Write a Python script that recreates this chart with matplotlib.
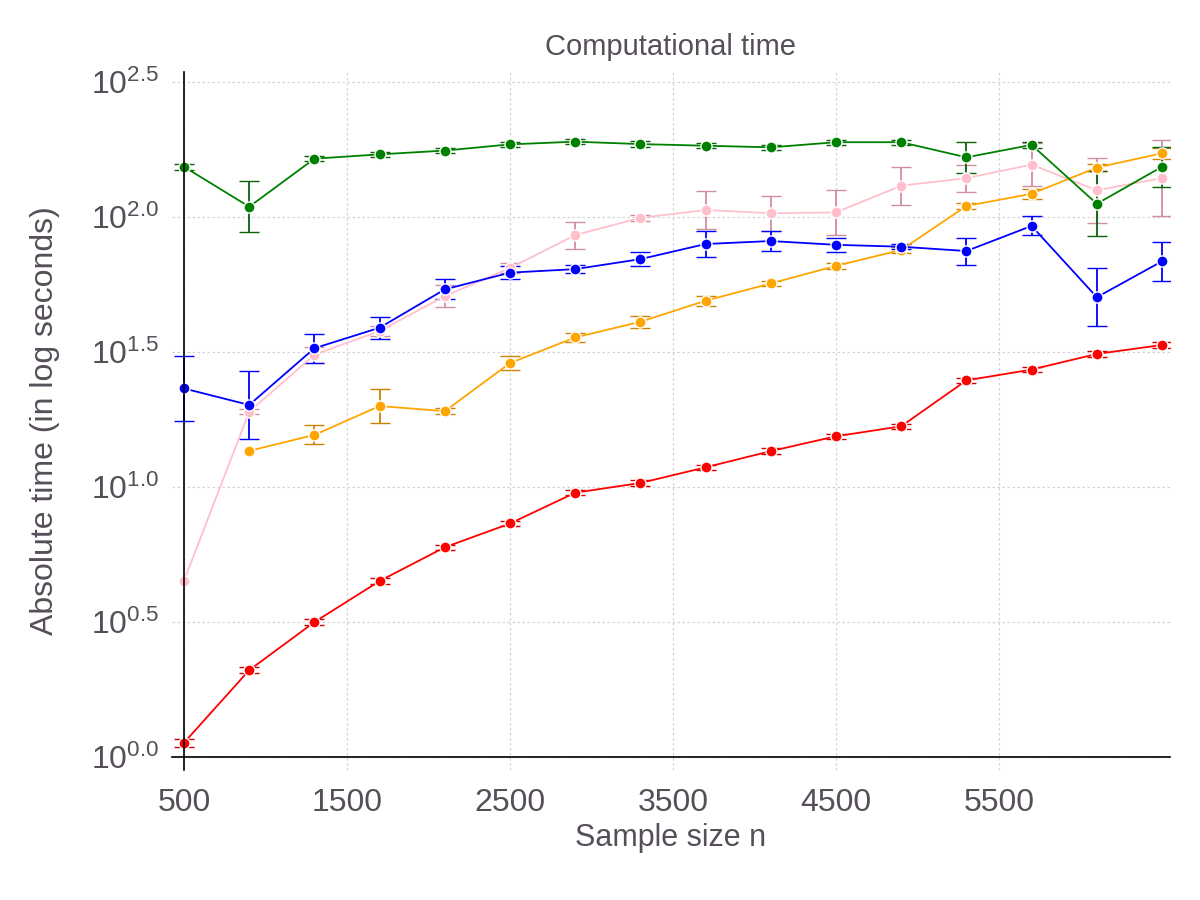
import numpy as np
import matplotlib
matplotlib.use("Agg")
import matplotlib.pyplot as plt

# sample sizes
n = [500, 900, 1300, 1700, 2100, 2500, 2900, 3300, 3700, 4100, 4500, 4900, 5300, 5700, 6100, 6500]

# log10 of mean time in seconds, and half-width of error bars (log10 units)
pink_mean = [0.653, 1.279, 1.490, 1.578, 1.707, 1.811, 1.933, 1.997, 2.026, 2.014, 2.017, 2.116, 2.144, 2.194, 2.099, 2.144]
pink_err = [np.nan, 0.01, 0.03, 0.02, 0.04, 0.02, 0.05, 0.012, 0.07, 0.065, 0.083, 0.07, 0.05, 0.08, 0.12, 0.14]

orange_mean = [np.nan, 1.134, 1.193, 1.300, 1.281, 1.459, 1.554, 1.612, 1.690, 1.754, 1.819, 1.878, 2.041, 2.086, 2.183, 2.236]
orange_err = [np.nan, np.nan, 0.035, 0.062, 0.012, 0.027, 0.018, 0.022, 0.018, 0.01, 0.01, 0.01, 0.01, 0.018, 0.012, 0.02]

blue_mean = [1.365, 1.304, 1.514, 1.590, 1.732, 1.794, 1.807, 1.844, 1.900, 1.911, 1.897, 1.890, 1.874, 1.967, 1.703, 1.836]
blue_err = [0.12, 0.125, 0.053, 0.04, 0.037, 0.025, 0.015, 0.025, 0.047, 0.036, 0.027, 0.01, 0.05, 0.035, 0.108, 0.073]

green_mean = [2.186, 2.038, 2.216, 2.232, 2.246, 2.269, 2.279, 2.270, 2.264, 2.258, 2.277, 2.277, 2.221, 2.267, 2.049, 2.186]
green_err = [0.012, 0.095, 0.01, 0.01, 0.01, 0.01, 0.01, 0.01, 0.01, 0.01, 0.01, 0.01, 0.058, 0.012, 0.12, 0.075]

red_mean = [0.053, 0.322, 0.500, 0.652, 0.777, 0.865, 0.979, 1.015, 1.073, 1.133, 1.188, 1.225, 1.395, 1.435, 1.493, 1.526]
red_err = [0.015, 0.012, 0.01, 0.01, 0.01, 0.01, 0.01, 0.01, 0.01, 0.01, 0.01, 0.01, 0.01, 0.01, 0.01, 0.01]

x_ticks = [500, 1500, 2500, 3500, 4500, 5500]
y_ticks = [0.0, 0.5, 1.0, 1.5, 2.0, 2.5]

text_color = "#564e58"
plt.rcParams["font.family"] = ["Liberation Sans", "DejaVu Sans"]
plt.rcParams["mathtext.fontset"] = "custom"
plt.rcParams["mathtext.rm"] = "Liberation Sans"
plt.rcParams["mathtext.default"] = "regular"

fig = plt.figure(figsize=(12, 9), dpi=100)
ax = fig.add_axes([0.1433, 0.1444, 0.8317, 0.7756])

series = [
    (pink_mean, pink_err, "pink", "#cf8f9c"),
    (orange_mean, orange_err, "orange", "#cc8400"),
    (blue_mean, blue_err, "blue", "blue"),
    (green_mean, green_err, "green", "#0b620b"),
    (red_mean, red_err, "red", "#d40000"),
]

for mean, err, col, ecol in series:
    ax.errorbar(n, mean, yerr=err, color=col, ecolor=ecol, lw=1.3, elinewidth=1.3,
                capsize=7, capthick=1.3, marker="o", markersize=8,
                markeredgecolor="white", markeredgewidth=1.0)

ax.set_xlim(426, 6549)
ax.set_ylim(-0.048, 2.537)
ax.spines["left"].set_position(("data", 500))
ax.spines["bottom"].set_position(("data", 0))
ax.spines["right"].set_visible(False)
ax.spines["top"].set_visible(False)
ax.spines["left"].set_linewidth(1.2)
ax.spines["bottom"].set_linewidth(1.2)

ax.set_xticks(x_ticks)
ax.set_xticklabels([str(t) for t in x_ticks])
ax.set_yticks(y_ticks)
ax.set_yticklabels(["$10^{%.1f}$" % t for t in y_ticks])
ax.tick_params(length=0, labelsize=23, labelcolor=text_color)
ax.tick_params(axis="x", pad=22)
ax.tick_params(axis="y", pad=18)
ax.grid(True, color="#d2d2d8", linestyle=(0, (2, 2)), linewidth=0.9)
ax.set_axisbelow(True)

ax.set_title("Computational time", fontsize=21, color=text_color, pad=12)
ax.set_xlabel("Sample size n", fontsize=22, color=text_color, labelpad=4)
ax.set_ylabel("Absolute time (in log seconds)", fontsize=23, color=text_color, labelpad=22)

fig.savefig("out.png", dpi=100)
